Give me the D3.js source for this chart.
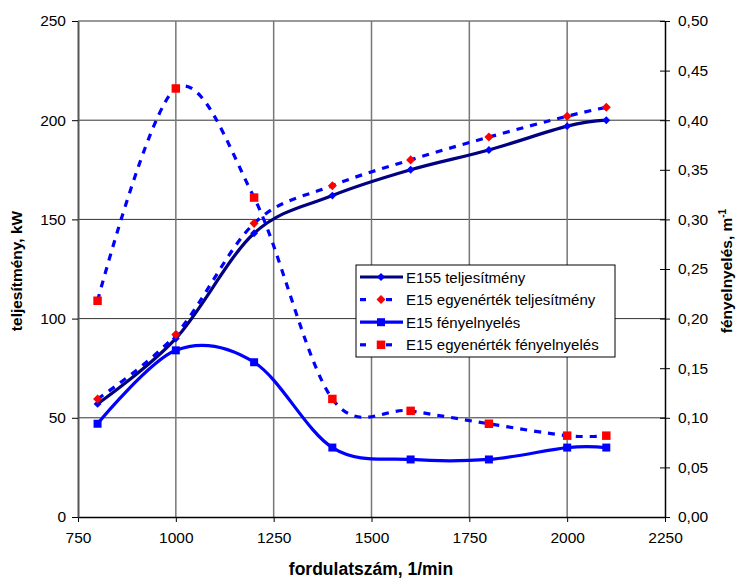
<!DOCTYPE html>
<html>
<head>
<meta charset="utf-8">
<script src="https://cdn.jsdelivr.net/npm/d3@7/dist/d3.min.js"></script>
<style>
  html, body { margin: 0; padding: 0; background: #fff; }
  svg { display: block; font-family: Arial, "Liberation Sans", sans-serif; }
</style>
</head>
<body>
<svg id="chart" width="738" height="579"></svg>
<script>
// Engine speed (1/min) at each measured point
const rpm = [800, 1000, 1200, 1400, 1600, 1800, 2000, 2100];

// Power, kW (left axis)
const powerE155 = [57, 90, 143, 162, 175, 185, 197, 200];
const powerE15eq = [59.5, 92, 148, 167, 180, 191.5, 202, 206.5];

// Light absorption, 1/m (right axis)
const absE15 = [0.094, 0.168, 0.156, 0.070, 0.058, 0.058, 0.070, 0.070];
const absE15eq = [0.218, 0.432, 0.322, 0.119, 0.107, 0.094, 0.082, 0.082];

// Axis ticks
const xTicks = [750, 1000, 1250, 1500, 1750, 2000, 2250];
const leftTicks = [0, 50, 100, 150, 200, 250];
const rightTicks = [0, 0.05, 0.10, 0.15, 0.20, 0.25, 0.30, 0.35, 0.40, 0.45, 0.50];

const seriesNames = [
  "E155 teljesítmény",
  "E15 egyenérték teljesítmény",
  "E15 fényelnyelés",
  "E15 egyenérték fényelnyelés"
];

const svg = d3.select("#chart");
const plot = { left: 78, right: 665, top: 21, bottom: 517 };

const x = d3.scaleLinear().domain([750, 2250]).range([plot.left, plot.right]);
const yL = d3.scaleLinear().domain([0, 250]).range([plot.bottom, plot.top]);
const yR = d3.scaleLinear().domain([0, 0.5]).range([plot.bottom, plot.top]);

const fmtComma = v => d3.format(".2f")(v).replace(".", ",");

// Gridlines
const grid = svg.append("g");
grid.selectAll("line.h").data(leftTicks.slice(1)).join("line")
  .attr("x1", plot.left).attr("x2", plot.right)
  .attr("y1", d => yL(d)).attr("y2", d => yL(d))
  .attr("stroke", "#333").attr("stroke-width", 1);
grid.selectAll("line.v").data(xTicks.slice(1, -1)).join("line")
  .attr("x1", d => x(d)).attr("x2", d => x(d))
  .attr("y1", plot.top).attr("y2", plot.bottom)
  .attr("stroke", "#777").attr("stroke-width", 1.5);

// Axes
const tickFont = "15.5px";
const xAxis = svg.append("g").attr("transform", `translate(0,${plot.bottom})`)
  .call(d3.axisBottom(x).tickValues(xTicks).tickFormat(d3.format("d")).tickSize(5).tickPadding(10).tickSizeOuter(0));
const leftAxis = svg.append("g").attr("transform", `translate(${plot.left},0)`)
  .call(d3.axisLeft(yL).tickValues(leftTicks).tickSize(6).tickPadding(6).tickSizeOuter(0));
const rightAxis = svg.append("g").attr("transform", `translate(${plot.right},0)`)
  .call(d3.axisRight(yR).tickValues(rightTicks).tickFormat(fmtComma).tickSize(5).tickPadding(8).tickSizeOuter(0));
// right-axis ticks cross the axis line
rightAxis.selectAll(".tick line").attr("x1", -5);

[xAxis, leftAxis, rightAxis].forEach(a => {
  a.selectAll("text").attr("font-size", tickFont).attr("fill", "#000")
    .attr("font-family", "Arial, 'Liberation Sans', sans-serif");
  a.selectAll(".tick line").attr("stroke", "#000");
});
xAxis.select(".domain").attr("stroke", "#000").attr("stroke-width", 1.5);
leftAxis.select(".domain").attr("stroke", "#555").attr("stroke-width", 2);
rightAxis.select(".domain").attr("stroke", "#000").attr("stroke-width", 1.5);

// Axis titles
svg.append("text")
  .attr("x", 371).attr("y", 575)
  .attr("text-anchor", "middle").attr("font-weight", "bold").attr("font-size", "17.5px")
  .text("fordulatszám, 1/min");
svg.append("text")
  .attr("transform", `translate(22,${(plot.top + plot.bottom) / 2 + 2}) rotate(-90)`)
  .attr("text-anchor", "middle").attr("font-weight", "bold").attr("font-size", "15.5px")
  .text("teljesítmény, kW");
const rt = svg.append("text")
  .attr("transform", `translate(732,${(plot.top + plot.bottom) / 2 + 2}) rotate(-90)`)
  .attr("text-anchor", "middle").attr("font-weight", "bold").attr("font-size", "15.5px");
rt.append("tspan").text("fényelnyelés, m");
rt.append("tspan").attr("dy", "-6").attr("font-size", "10px").text("-1");

// Series
const curve = d3.curveCardinal.tension(0);
const series = [
  { name: seriesNames[0], vals: powerE155, y: yL, color: "#000080", dash: null, marker: "diamond", mcolor: "#0000ff", msize: 40 },
  { name: seriesNames[1], vals: powerE15eq, y: yL, color: "#0000ff", dash: "7,7", marker: "diamond", mcolor: "#ff0000", msize: 52 },
  { name: seriesNames[2], vals: absE15, y: yR, color: "#0000ff", dash: null, marker: "square", mcolor: "#0000ff", msize: 64 },
  { name: seriesNames[3], vals: absE15eq, y: yR, color: "#0000ff", dash: "7,7", marker: "square", mcolor: "#ff0000", msize: 72 }
];
const diamondType = d3.symbolDiamond2 || d3.symbolDiamond;
const symbolOf = m => m === "diamond" ? diamondType : d3.symbolSquare;

series.forEach(s => {
  const pts = rpm.map((r, i) => [r, s.vals[i]]);
  const line = d3.line().x(d => x(d[0])).y(d => s.y(d[1])).curve(curve);
  svg.append("path")
    .attr("d", line(pts))
    .attr("fill", "none").attr("stroke", s.color).attr("stroke-width", 3.2)
    .attr("stroke-dasharray", s.dash);
  svg.append("g").selectAll("path").data(pts).join("path")
    .attr("transform", d => `translate(${x(d[0])},${s.y(d[1])})`)
    .attr("d", d3.symbol().type(symbolOf(s.marker)).size(s.msize))
    .attr("fill", s.mcolor);
});

// Legend
const lg = svg.append("g").attr("transform", "translate(356,265)");
lg.append("rect").attr("x", 0).attr("y", 0).attr("width", 259).attr("height", 92)
  .attr("fill", "#fff").attr("stroke", "#000").attr("stroke-width", 1);
series.forEach((s, i) => {
  const cy = 12 + i * 22.6;
  const segs = s.dash ? [[4, 10], [30, 36]] : [[4, 47]];
  segs.forEach(([a, b]) => {
    lg.append("line").attr("x1", a).attr("x2", b).attr("y1", cy).attr("y2", cy)
      .attr("stroke", s.color).attr("stroke-width", 3.2);
  });
  lg.append("path").attr("transform", `translate(25,${cy})`)
    .attr("d", d3.symbol().type(symbolOf(s.marker)).size(s.msize)).attr("fill", s.mcolor);
  lg.append("text").attr("x", 50).attr("y", cy + 5.5)
    .attr("font-size", "15px").text(s.name);
});
</script>
</body>
</html>
